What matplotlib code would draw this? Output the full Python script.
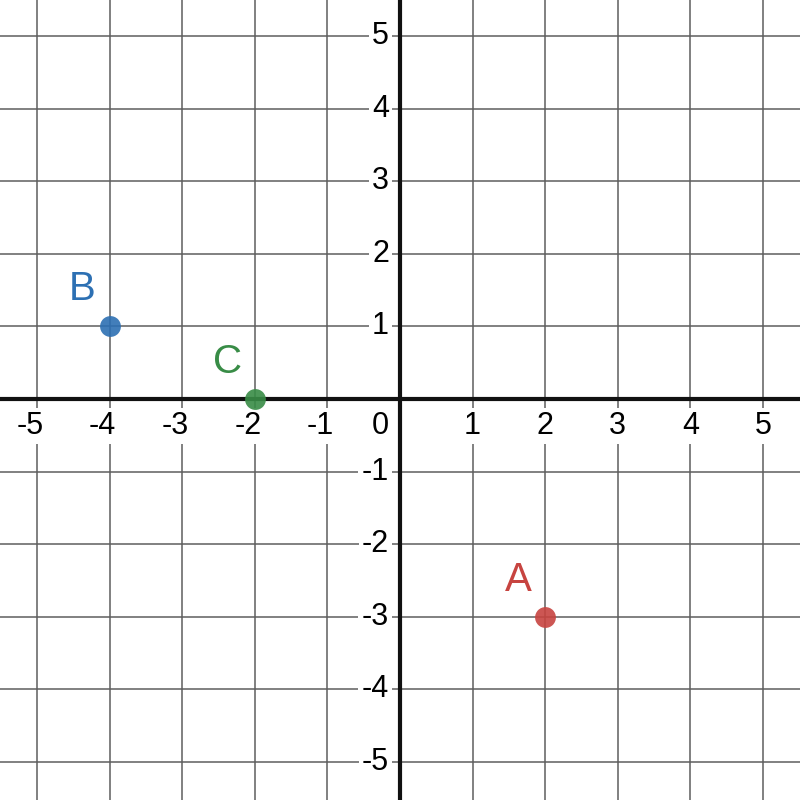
import matplotlib
matplotlib.use("Agg")
import matplotlib.pyplot as plt
from matplotlib.transforms import offset_copy

plt.rcParams['font.family'] = ['Liberation Sans', 'DejaVu Sans']

point_names = ["A", "B", "C"]
point_x = [2, -4, -2]
point_y = [-3, 1, 0]
point_colors = ["#c74440", "#2d70b3", "#388c46"]
ticks = [-5, -4, -3, -2, -1, 1, 2, 3, 4, 5]

fig = plt.figure(figsize=(8, 8), dpi=100)
ax = fig.add_axes([0, 0, 1, 1])
ax.set_xlim(-5.51, 5.51)
ax.set_ylim(-5.523, 5.496)
ax.axis('off')

for t in ticks:
    ax.axvline(t, color="#5e5e5e", lw=1.1, zorder=1)
    ax.axhline(t, color="#5e5e5e", lw=1.1, zorder=1)
ax.axvline(0, color="#111111", lw=3, zorder=2)
ax.axhline(0, color="#111111", lw=3, zorder=2)

bbox = dict(facecolor="white", edgecolor="none", pad=2.5)
for t in ticks:
    dx = -7 if t < 0 else 0
    tr = offset_copy(ax.transData, fig=fig, x=dx, y=-27, units='dots')
    ax.text(t, 0, str(t), transform=tr, ha='center', va='center',
            fontsize=22, color='black', bbox=bbox, zorder=3)
    tr2 = offset_copy(ax.transData, fig=fig, x=-11, y=0, units='dots')
    ax.text(0, t, str(t), transform=tr2, ha='right', va='center',
            fontsize=22, color='black', bbox=bbox, zorder=3)
tr0 = offset_copy(ax.transData, fig=fig, x=-11, y=-27, units='dots')
ax.text(0, 0, "0", transform=tr0, ha='right', va='center', fontsize=22,
        color='black', bbox=bbox, zorder=3)

for n, x, y, c in zip(point_names, point_x, point_y, point_colors):
    ax.plot([x], [y], 'o', color=c, ms=15, mew=0, alpha=0.9, zorder=4)
    trl = offset_copy(ax.transData, fig=fig, x=-27, y=37, units='dots')
    ax.text(x, y, n, transform=trl, ha='center', va='center', fontsize=29,
            color=c, zorder=4)

fig.savefig("out.png", dpi=100)
